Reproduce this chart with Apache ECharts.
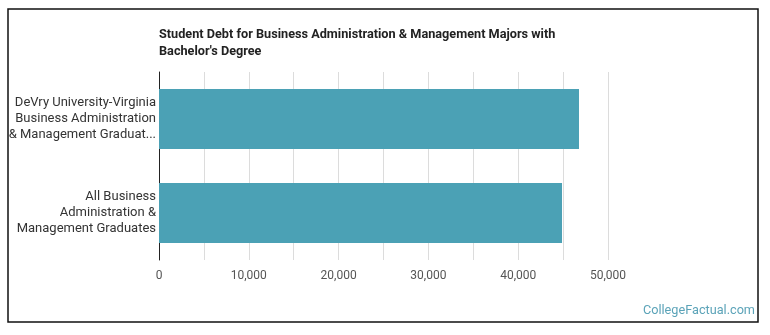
<!DOCTYPE html>
<html lang="en">

<head>
  <meta charset="UTF-8">
  <title>Student Debt</title>
  <script src="https://cdn.jsdelivr.net/npm/echarts@6/dist/echarts.min.js"></script>
  <style>
    * {
      padding: 0;
      margin: 0;
    }

    #main {
      width: 770px;
      height: 335px;
    }
  </style>
</head>

<body>
  <div id="main"></div>
  <script>
    var categories = [
      'DeVry University-Virginia\nBusiness Administration\n& Management Graduat...',
      'All Business\nAdministration &\nManagement Graduates'
    ];
    var debt = [46770, 44880];
    var titleText = 'Student Debt for Business Administration & Management Majors with\nBachelor\'s Degree';

    var myChart = echarts.init(document.getElementById('main'));
    var option = {
      animation: false,
      backgroundColor: '#fff',
      textStyle: { fontFamily: 'Roboto' },
      title: {
        text: titleText,
        left: 154,
        top: 21,
        textStyle: {
          fontFamily: 'Roboto',
          fontSize: 12.7,
          fontWeight: 'bold',
          color: '#222',
          lineHeight: 17
        }
      },
      graphic: [
        {
          type: 'rect',
          shape: { x: 8, y: 9, width: 750, height: 313 },
          style: { fill: null, stroke: '#111', lineWidth: 1.5 }
        },
        {
          type: 'text',
          right: 15,
          top: 304,
          style: {
            text: 'CollegeFactual.com',
            fill: '#5ba3b8',
            font: '12.7px Roboto'
          }
        }
      ],
      grid: {
        left: 159,
        right: 162,
        top: 72,
        bottom: 75,
        containLabel: false
      },
      xAxis: {
        type: 'value',
        min: 0,
        max: 50000,
        interval: 5000,
        axisLine: { show: false },
        axisTick: { show: false },
        splitLine: { lineStyle: { color: '#dcdcdc' } },
        axisLabel: {
          color: '#555',
          fontSize: 12,
          margin: 10,
          formatter: function (v) {
            return v % 10000 === 0 ? v.toLocaleString('en-US') : '';
          }
        }
      },
      yAxis: {
        type: 'category',
        inverse: true,
        data: categories,
        axisLine: { lineStyle: { color: '#222', width: 1 } },
        axisTick: { show: false },
        axisLabel: {
          color: '#333',
          fontSize: 13,
          lineHeight: 16,
          margin: 3,
          align: 'right'
        }
      },
      series: [
        {
          type: 'bar',
          data: debt,
          barWidth: 60,
          itemStyle: { color: '#4ba1b5' }
        }
      ]
    };
    myChart.setOption(option);
  </script>
</body>

</html>
